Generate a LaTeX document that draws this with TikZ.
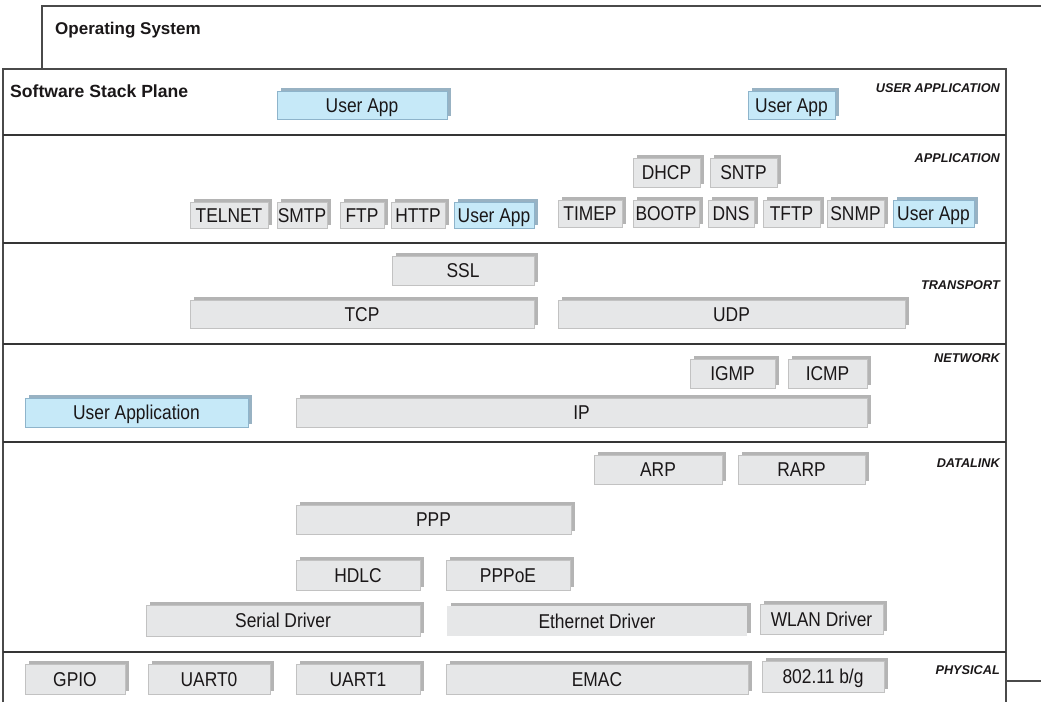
\documentclass[tikz,border=0pt]{standalone}
\usepackage{fontspec}
\setmainfont{Liberation Sans}
\newfontfamily\boxfont{Liberation Sans}[FakeStretch=0.87]
\usetikzlibrary{shadows}

\definecolor{gfill}{HTML}{E6E7E8}
\definecolor{gborder}{HTML}{C2C2C2}
\definecolor{gshadow}{HTML}{B4B4B4}
\definecolor{bfill}{HTML}{C6E9F8}
\definecolor{bborder}{HTML}{8EB4CB}
\definecolor{bshadow}{HTML}{98B2C3}
\definecolor{ink}{HTML}{1A1718}
\definecolor{frame}{HTML}{4A4A4A}
\definecolor{divider}{HTML}{353535}

\tikzset{
  gbox/.style={draw=gborder, fill=gfill, line width=1pt, inner sep=0pt,
    text=ink, font=\boxfont\fontsize{20}{22}\selectfont,
    text height=14.3pt, text depth=0pt,
    drop shadow={shadow xshift=3.5pt, shadow yshift=3.5pt, fill=gshadow, opacity=1}},
  gboxplain/.style={gbox, draw=none},
  bbox/.style={gbox, draw=bborder, fill=bfill,
    drop shadow={shadow xshift=3.5pt, shadow yshift=3.5pt, fill=bshadow, opacity=1}},
  layerlabel/.style={anchor=base east, inner sep=0pt, text=ink,
    font=\fontsize{12.7}{14}\selectfont\bfseries\itshape},
  title/.style={anchor=base west, inner sep=0pt, text=ink,
    font=\fontsize{17}{19}\selectfont\bfseries},
  frameline/.style={draw=frame, line width=1.1pt},
  layerline/.style={draw=divider, line width=2.2pt},
}

% \stackbox[style]{x1}{y1}{x2}{y2}{name}{text}: box given by its corners
\newcommand{\stackbox}[7][gbox]{%
  \node[#1, minimum width={(#4)-(#2)}, minimum height={(#5)-(#3)}]
    (#6) at ({((#2)+(#4))/2},{((#3)+(#5))/2}) {#7};}

\begin{document}
\begin{tikzpicture}[x=1pt,y=-1pt]
\useasboundingbox (0,0) rectangle (1041,702);

% operating system frame
\coordinate (os-bl) at (42,69);
\coordinate (os-tl) at (42,6);
\coordinate (os-tr) at (1041,6);
\draw[frameline] (os-bl) -- (os-tl) -- (os-tr);
\node[title] (os) at (55,34) {Operating System};

% software stack plane frame
\coordinate (pl-bl) at (3,702);
\coordinate (pl-tl) at (3,69);
\coordinate (pl-tr) at (1006,69);
\coordinate (pl-br) at (1006,702);
\draw[frameline] (pl-bl) -- (pl-tl) -- (pl-tr) -- (pl-br);
\coordinate (os-r1) at (1006,681);
\coordinate (os-r2) at (1041,681);
\draw[frameline] (os-r1) -- (os-r2);
\node[title, font=\fontsize{17.6}{19}\selectfont\bfseries] (plane) at (10,97) {Software Stack Plane};

% layer dividers
\foreach \y/\n in {135/a,243/b,344/c,442/d,652/e}{
  \coordinate (div-\n-l) at (3,\y);
  \coordinate (div-\n-r) at (1006,\y);
  \draw[layerline] (div-\n-l) -- (div-\n-r);
}

% layer names
\node[layerlabel] (l-ua)   at (1000,92)  {USER APPLICATION};
\node[layerlabel] (l-app)  at (1000,162) {APPLICATION};
\node[layerlabel] (l-tr)   at (1000,289) {TRANSPORT};
\node[layerlabel] (l-net)  at (1000,362) {NETWORK};
\node[layerlabel] (l-dl)   at (1000,467) {DATALINK};
\node[layerlabel] (l-phy)  at (1000,674) {PHYSICAL};

% user application layer
\stackbox[bbox]{277}{91}{447}{119}{ua1}{User App}
\stackbox[bbox]{748}{91}{835}{119}{ua2}{User App}

% application layer
\stackbox{190}{202}{268}{228}{telnet}{TELNET}
\stackbox{277}{202}{327}{228}{smtp}{SMTP}
\stackbox{340}{202}{384}{228}{ftp}{FTP}
\stackbox{391}{202}{445}{228}{http}{HTTP}
\stackbox[bbox]{454}{202}{534}{228}{ua3}{User App}
\stackbox{633}{158}{700}{187}{dhcp}{DHCP}
\stackbox{710}{158}{777}{187}{sntp}{SNTP}
\stackbox{558}{200}{622}{227}{timep}{TIMEP}
\stackbox{633}{200}{699}{227}{bootp}{BOOTP}
\stackbox{708}{200}{754}{227}{dns}{DNS}
\stackbox{763}{200}{820}{227}{tftp}{TFTP}
\stackbox{827}{200}{884}{227}{snmp}{SNMP}
\stackbox[bbox]{893}{200}{974}{227}{ua4}{User App}

% transport layer
\stackbox{392}{256}{534}{285}{ssl}{SSL}
\stackbox{190}{300}{534}{328}{tcp}{TCP}
\stackbox{558}{300}{905}{328}{udp}{UDP}

% network layer
\stackbox{690}{359}{775}{388}{igmp}{IGMP}
\stackbox{788}{359}{867}{388}{icmp}{ICMP}
\stackbox[bbox]{25}{398}{248}{427}{uapp}{User Application}
\stackbox{296}{398}{867}{427}{ip}{IP}

% datalink layer
\stackbox{594}{455}{722}{484}{arp}{ARP}
\stackbox{738}{455}{865}{484}{rarp}{RARP}
\stackbox{296}{505}{571}{534}{ppp}{PPP}
\stackbox{296}{560}{420}{590}{hdlc}{HDLC}
\stackbox{446}{560}{570}{590}{pppoe}{PPPoE}
\stackbox{146}{605}{420}{636}{serial}{Serial Driver}
\stackbox[gboxplain]{447}{606}{747}{636}{eth}{Ethernet Driver}
\stackbox{760}{604}{883}{634}{wlan}{WLAN Driver}

% physical layer
\stackbox{25}{664}{125}{694}{gpio}{GPIO}
\stackbox{148}{664}{270}{694}{uart0}{UART0}
\stackbox{296}{664}{420}{694}{uart1}{UART1}
\stackbox{446}{664}{748}{694}{emac}{EMAC}
\stackbox{762}{661}{884}{692}{wifi}{802.11 b/g}
\end{tikzpicture}
\end{document}
